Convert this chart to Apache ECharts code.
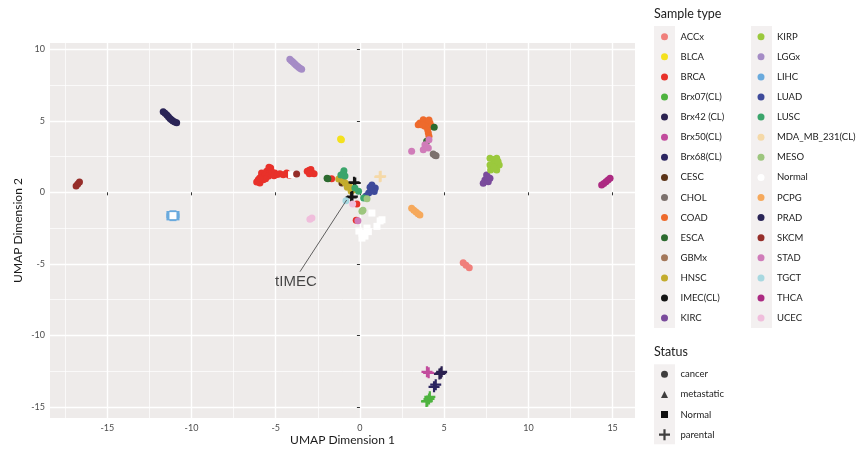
<!DOCTYPE html>
<html><head><meta charset="utf-8">
<script src="https://cdn.jsdelivr.net/npm/echarts@6/dist/echarts.min.js"></script>
<style>html,body{margin:0;padding:0;background:#fff}#c{width:861px;height:450px}</style>
</head><body><div id="c"></div>
<script>
// status codes (third value of each point)
const C = 0, M = 1, N = 2, P = 3;
const statusNames = ['cancer', 'metastatic', 'Normal', 'parental'];
const sampleTypes = ['ACCx','BLCA','BRCA','Brx07(CL)','Brx42 (CL)','Brx50(CL)','Brx68(CL)','CESC','CHOL','COAD','ESCA','GBMx','HNSC','IMEC(CL)','KIRC',
  'KIRP','LGGx','LIHC','LUAD','LUSC','MDA_MB_231(CL)','MESO','Normal','PCPG','PRAD','SKCM','STAD','TGCT','THCA','UCEC'];
const xTicks = [-15, -10, -5, 0, 5, 10, 15];
const yTicks = [-15, -10, -5, 0, 5, 10];
const xMinor = [-17.5, -12.5, -7.5, -2.5, 2.5, 7.5, 12.5];
const yMinor = [-12.5, -7.5, -2.5, 2.5, 7.5];

const ACCx = [[6.13,-4.92,C],[6.3,-5.1,C],[6.49,-5.27,C]];
const BLCA = [[-1.15,3.73,C],[-1.1,3.68,C]];
const BRCA = [[-6.13,0.72,C],[-5.94,0.65,C],[-6.04,0.88,C],[-5.74,0.88,C],[-5.84,1.12,C],[-5.84,1.35,C],[-5.54,1.47,C],[-5.62,1.2,C],
  [-5.44,1.12,C],[-5.3,1.7,C],[-5.25,1.45,C],[-5.05,1.35,C],[-5.1,1.15,C],[-4.9,1.25,C],[-4.75,1.3,C],[-4.55,1.23,C],[-4.35,1.35,C],
  [-4.2,1.2,C],[-5.6,0.95,C],[-5.95,1.0,C],[-5.4,1.75,C],[-3.13,1.47,C],[-3.01,1.55,C],[-2.91,1.6,C],[-2.85,1.35,C],[-2.72,1.3,C],[-3.0,1.3,C],
  [-1.68,0.95,C],[-0.18,-0.82,C],[-0.22,-1.95,C]];
const Brx07_CL = [[4.0,-14.6,P],[4.1,-14.45,P],[4.15,-14.3,P],[3.95,-14.62,P]];
const Brx42_CL = [[4.72,-12.7,P],[4.85,-12.55,P],[4.8,-12.65,P]];
const Brx50_CL = [[3.98,-12.55,P],[4.08,-12.62,P]];
const Brx68_CL = [[4.4,-13.6,P],[4.5,-13.45,P]];
const CESC = [[-1.07,0.65,C]];
const CHOL = [[4.35,2.68,C],[4.45,2.59,C],[4.52,2.55,C]];
const COAD = [[3.56,4.85,C],[3.76,5.08,C],[3.96,4.97,C],[4.16,4.85,C],[4.26,4.62,C],[3.86,4.62,C],[4.02,4.38,C],[4.06,4.15,C],
  [4.10,3.92,C],[3.46,4.73,C],[4.1,5.05,C],[3.7,4.7,C]];
const ESCA = [[-1.9,0.95,C],[-1.95,0.98,C],[4.41,4.55,C],[3.96,3.57,C]];
const GBMx = [];
const HNSC = [[-1.26,0.93,C],[-1.15,0.98,C],[-0.87,0.65,C],[-0.64,0.49,C],[-0.37,0.18,C],[-0.52,0.07,C],[-0.75,0.35,C],[-1.0,0.8,C]];
const IMEC_CL = [[-0.28,0.65,P],[-0.35,0.7,P],[-0.52,-0.35,P],[-0.45,-0.3,P]];
const KIRC = [[7.52,1.21,C],[7.42,0.86,C],[7.72,0.98,C],[7.32,0.63,C],[7.62,0.74,C],[7.6,1.05,C]];
const KIRP = [[7.72,2.38,C],[8.12,2.38,C],[7.92,2.3,C],[8.02,2.03,C],[8.27,1.91,C],[7.72,1.91,C],[8.12,1.56,C],[7.76,1.56,C],[7.95,1.75,C],[8.2,2.15,C]];
const LGGx = [[-4.16,9.30,C],[-4.07,9.2,C],[-3.98,9.11,C],[-3.89,9.0,C],[-3.80,8.90,C],[-3.71,8.82,C],[-3.62,8.73,C],[-3.54,8.66,C],[-3.46,8.60,C]];
const LIHC = [[-11.28,-1.55,N],[-10.92,-1.55,N],[-11.28,-1.72,N],[-10.92,-1.72,N],[-11.1,-1.5,N],[-11.1,-1.77,N]];
const LUAD = [[0.71,0.18,C],[0.91,0.30,C],[0.52,-0.05,C],[0.71,0.51,C],[0.36,-0.26,C],[0.85,0.05,C],[0.6,0.35,C]];
const LUSC = [[-0.97,1.35,C],[-0.89,1.14,C],[-1.13,1.21,C],[-0.95,1.5,C],[-0.08,0.07,C],[0.22,-0.4,C],[-0.3,0.3,C]];
const MDA_MB_231_CL = [[1.23,1.12,P],[1.18,1.08,P]];
const MESO = [[0.42,-0.45,C],[0.12,-1.33,C],[0.18,-1.25,C]];
const Normal = [[0.71,-1.45,N],[1.31,-1.92,N],[1.2,-2.0,N],[1.01,-2.38,N],[0.42,-2.5,N],[0.5,-2.75,N],[0.12,-2.85,N],[0.30,-3.06,N],
  [0.12,-3.2,N],[-0.06,-2.71,N],[-4.06,1.23,N],[-11.1,-1.63,N]];
const PCPG = [[3.07,-1.12,C],[3.2,-1.25,C],[3.33,-1.38,C],[3.45,-1.5,C],[3.56,-1.59,C]];
const PRAD = [[-11.68,5.64,C],[-11.57,5.52,C],[-11.46,5.41,C],[-11.37,5.28,C],[-11.28,5.16,C],[-11.19,5.07,C],[-11.10,4.99,C],[-10.99,4.92,C],[-10.88,4.87,C]];
const SKCM = [[-16.85,0.44,C],[-16.75,0.58,C],[-16.65,0.72,C],[-3.76,1.28,C]];
const STAD = [[3.86,3.33,C],[4.06,3.10,C],[3.76,2.98,C],[4.10,3.68,C],[3.07,2.87,C],[3.95,3.2,C],[-0.12,-1.99,C]];
const TGCT = [[-0.83,-0.59,C]];
const THCA = [[14.35,0.51,C],[14.48,0.62,C],[14.61,0.74,C],[14.73,0.86,C],[14.85,0.98,C]];
const UCEC = [[-2.97,-1.89,C],[-2.85,-1.8,C],[-0.43,-0.82,C]];

const pointsByType = [ACCx,BLCA,BRCA,Brx07_CL,Brx42_CL,Brx50_CL,Brx68_CL,CESC,CHOL,COAD,ESCA,GBMx,HNSC,IMEC_CL,KIRC,
  KIRP,LGGx,LIHC,LUAD,LUSC,MDA_MB_231_CL,MESO,Normal,PCPG,PRAD,SKCM,STAD,TGCT,THCA,UCEC];

const annotationText = 'tIMEC';
const annotationLabelPos = [-3.8, -6.27];
const annotationLine = [[-3.56, -5.55], [-0.79, -0.54]];

const typeColors = ['#f07f7b','#f4e11e','#e8312a','#4eb33f','#2b2150','#c24c9d','#2b2560','#5c3418','#7c716d','#ee6a2c','#2c6a2f','#a3775a','#c3ac2e','#141414','#7a4b9c',
  '#9bc93d','#a58cc6','#6aaadd','#3e4a9b','#3ba56b','#f5d9a8','#9dc67e','#ffffff','#f6a95c','#2a2456','#962e2a','#d07cb9','#a8d8e0','#ac2a82','#f0bedc'];
const crossPath = 'path://M4,0H6V4H10V6H6V10H4V6H0V4H4Z';
const shapes = ['circle', 'triangle', 'rect', crossPath];

const FONT = 'Lato';
const chart = echarts.init(document.getElementById('c'), null, {renderer: 'canvas'});

const series = sampleTypes.map((name, i) => ({
  name, type: 'scatter', data: pointsByType[i],
  symbol: v => shapes[v[2]],
  symbolSize: v => v[2] === P ? 11 : 7,
  itemStyle: {color: typeColors[i], opacity: 1},
  emphasis: {disabled: true}, silent: true, z: 3
}));
['cancer','metastatic','parental'].forEach(n => series.push({name: n, type: 'scatter', data: [], itemStyle: {color: '#111'}}));
series.push({
  name: 'pointer', type: 'line', data: annotationLine, symbol: 'none', silent: true, z: 5,
  lineStyle: {color: '#3a3a3a', width: 0.8}
});
series.push({
  name: 'annot', type: 'scatter', data: [annotationLabelPos], symbolSize: 0, silent: true, z: 6,
  label: {show: true, position: 'inside', formatter: annotationText, fontFamily: 'Liberation Sans', fontSize: 15, color: '#1a1a1a'}
});

const legendText = {fontFamily: FONT, fontSize: 9.5, color: '#222', lineHeight: 20, padding: [0, 0, 0, 7.5]};
const legendBase = {orient: 'vertical', itemWidth: 7, itemHeight: 7, itemGap: 0.1, selectedMode: false, textStyle: legendText, z: 10, padding: 0};

const option = {
  animation: false,
  backgroundColor: '#ffffff',
  grid: {left: 50, right: 226, top: 43, bottom: 32, show: true, backgroundColor: '#eeebea', borderWidth: 0,
    containLabel: false, outerBoundsMode: 'none'},
  xAxis: [{
    type: 'value', min: -18.4, max: 16.33, minInterval: 5, maxInterval: 5,
    axisLine: {show: false},
    axisTick: {show: true, length: 3, customValues: xTicks, lineStyle: {color: '#333', width: 1}},
    axisLabel: {customValues: xTicks, margin: 6, fontSize: 9, color: '#4d4d4d', fontFamily: FONT},
    splitLine: {show: true, lineStyle: {color: '#ffffff', width: 1.4}},
    name: 'UMAP Dimension 1', nameLocation: 'middle', nameGap: 16, nameMoveOverlap: false,
    nameTextStyle: {fontFamily: FONT, fontSize: 12, color: '#1a1a1a'}, z: 1
  }, {
    type: 'value', min: -18.4, max: 16.33, position: 'bottom',
    axisLine: {show: false}, axisTick: {show: false, customValues: xMinor}, axisLabel: {show: false, customValues: xMinor},
    splitLine: {show: true, lineStyle: {color: '#ffffff', width: 0.7}}, z: 0
  }],
  yAxis: [{
    type: 'value', min: -15.78, max: 10.44, minInterval: 5, maxInterval: 5,
    axisLine: {show: false},
    axisTick: {show: true, length: 3, customValues: yTicks, lineStyle: {color: '#333', width: 1}},
    axisLabel: {customValues: yTicks, margin: 5, fontSize: 9, color: '#4d4d4d', fontFamily: FONT},
    splitLine: {show: true, lineStyle: {color: '#ffffff', width: 1.4}},
    name: 'UMAP Dimension 2', nameLocation: 'middle', nameGap: 26, nameMoveOverlap: false,
    nameTextStyle: {fontFamily: FONT, fontSize: 12, color: '#1a1a1a'}, z: 1
  }, {
    type: 'value', min: -15.78, max: 10.44, position: 'left',
    axisLine: {show: false}, axisTick: {show: false, customValues: yMinor}, axisLabel: {show: false, customValues: yMinor},
    splitLine: {show: true, lineStyle: {color: '#ffffff', width: 0.7}}, z: 0
  }],
  legend: [
    Object.assign({}, legendBase, {left: 661, top: 26.7, data: sampleTypes.slice(0, 15).map(n => ({name: n, icon: 'circle'}))}),
    Object.assign({}, legendBase, {left: 757.5, top: 26.7, data: sampleTypes.slice(15).map(n => ({name: n, icon: 'circle'}))}),
    Object.assign({}, legendBase, {left: 661, top: 364.3, data: [
      {name: 'cancer', icon: 'circle', itemStyle: {color: '#111'}},
      {name: 'metastatic', icon: 'triangle', itemStyle: {color: '#111'}},
      {name: 'Normal', icon: 'rect', itemStyle: {color: '#111'}}
    ]}),
    Object.assign({}, legendBase, {left: 659, top: 424.7, itemWidth: 11, itemHeight: 11,
      textStyle: Object.assign({}, legendText, {padding: [0, 0, 0, 5.5]}), data: [
      {name: 'parental', icon: crossPath, itemStyle: {color: '#111'}}
    ]})
  ],
  graphic: [
    {type: 'rect', shape: {x: 654, y: 26, width: 21, height: 302}, style: {fill: '#f3f0f0'}, z: -10, silent: true},
    {type: 'rect', shape: {x: 751, y: 26, width: 21, height: 302}, style: {fill: '#f3f0f0'}, z: -10, silent: true},
    {type: 'rect', shape: {x: 654, y: 364.3, width: 21, height: 80}, style: {fill: '#f3f0f0'}, z: -10, silent: true},
    {type: 'text', left: 654, top: 7, style: {text: 'Sample type', fontFamily: FONT, fontSize: 12.5, fill: '#222'}},
    {type: 'text', left: 654, top: 345, style: {text: 'Status', fontFamily: FONT, fontSize: 12.5, fill: '#222'}}
  ],
  series
};
chart.setOption(option);
</script></body></html>
